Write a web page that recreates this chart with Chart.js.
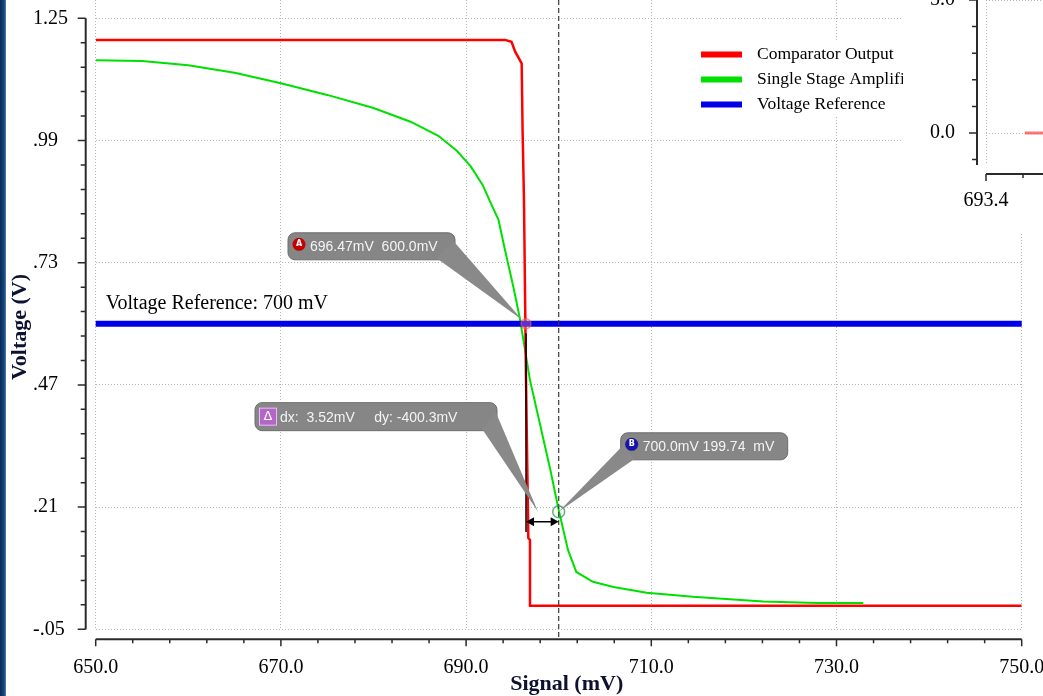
<!DOCTYPE html>
<html>
<head>
<meta charset="utf-8">
<title>Comparator Output vs Single Stage Amplifier</title>
<script src="https://cdn.jsdelivr.net/npm/chart.js@4.4.1/dist/chart.umd.min.js"></script>
<style>
  html, body { margin: 0; padding: 0; background: #ffffff; overflow: hidden; }
  #wrap { position: relative; width: 1043px; height: 696px; overflow: hidden; background: #ffffff; }
  #main { position: absolute; left: 0; top: 0; }
  #inset { position: absolute; left: 903px; top: -30px; }
  #frame { position: absolute; left: 0; top: 0; width: 6px; height: 696px;
           background: linear-gradient(to right, #062a57, #15467a 70%, #5a86b8); }
</style>
</head>
<body>
<div id="wrap">
  <canvas id="main" width="1043" height="696"></canvas>
  <canvas id="inset" width="140" height="263"></canvas>
  <div id="frame"></div>
</div>
<script>
// axis ticks
const signalTicks = [650, 670, 690, 710, 730, 750];
const signalTickLabels = ["650.0", "670.0", "690.0", "710.0", "730.0", "750.0"];
const voltageTicks = [-0.05, 0.21, 0.47, 0.73, 0.99, 1.25];
const voltageTickLabels = ["-.05", ".21", ".47", ".73", ".99", "1.25"];

// series (signal in mV, voltage in V)
const comparatorSignal = [650, 694.2, 694.9, 695.3, 696.0, 696.1, 696.25, 696.47, 696.72, 696.9, 696.9, 750];
const comparatorVoltage = [1.204, 1.204, 1.2, 1.179, 1.154, 1.012, 0.863, 0.48, 0.144, 0.14, 0.0, 0.0];

const amplifierSignal = [650, 655, 660, 665, 670, 675, 680, 684, 687, 689, 690.5, 691.8, 692.7, 693.5, 694.2,
  695.1, 695.8, 696.9, 697.4, 699.1, 700.0, 701.0, 701.9, 703.7, 705.9, 709.5, 714.5, 722.1, 727.9, 732.9];
const amplifierVoltage = [1.161, 1.159, 1.15, 1.134, 1.112, 1.087, 1.059, 1.03, 1.0, 0.968, 0.935, 0.895, 0.855, 0.821, 0.757,
  0.679, 0.612, 0.48, 0.437, 0.289, 0.204, 0.119, 0.072, 0.051, 0.04, 0.028, 0.019, 0.009, 0.006, 0.006];

const referenceSignal = [650, 750];
const referenceVoltage = [0.60, 0.60];

// cursors
const cursorA = [696.47, 0.60];
const cursorB = [700.0, 0.2];
const deltaBracket = [0.58, 0.157, 0.179];   // solid line top, bottom, arrow level
const cursorALabel = "696.47mV  600.0mV";
const deltaLabel = "dx:  3.52mV     dy: -400.3mV";
const cursorBLabel = "700.0mV 199.74  mV";
const referenceLabel = "Voltage Reference: 700 mV";

// inset window (top right)
const insetSignalTicks = [693.4];
const insetSignalTickLabels = ["693.4"];
const insetVoltageTicks = [0, 5];
const insetVoltageTickLabels = ["0.0", "5.0"];
const insetSignal = [693.505, 693.56];
const insetVoltage = [0, 0];

const serif = "'Liberation Serif', 'Times New Roman', serif";

function toPoints(xs, ys){
  return xs.map(function(x, i){ return {x: x, y: ys[i]}; });
}

function fixedScale(min, max, ticks, labels, fit, extra){
  let scale = {
    type: "linear",
    min: min,
    max: max,
    bounds: "data",
    afterBuildTicks: function(s){
      s.ticks = ticks.map(function(v){ return {value: v}; });
    },
    afterFit: fit,
    grid: {
      color: "#b4b4b4",
      lineWidth: 1,
      drawTicks: false
    },
    border: {
      display: false,
      dash: [1, 2]
    },
    ticks: {
      autoSkip: false,
      maxRotation: 0,
      minRotation: 0,
      color: "#000000",
      font: { family: serif, size: 20 },
      callback: function(value, index){ return labels[index]; }
    }
  };
  Object.assign(scale.ticks, extra || {});
  return scale;
}

// axis lines and tick marks sit a few pixels away from the plot area
const offsetAxes = {
  id: "offsetAxes",
  afterDraw: function(chart, args, opts){
    const ctx = chart.ctx;
    const area = chart.chartArea;
    const xs = chart.scales.x;
    const ys = chart.scales.y;
    const axisX = area.left - opts.gap;
    const axisY = area.bottom + opts.gap;
    ctx.save();
    ctx.strokeStyle = "#2a2a2a";
    ctx.lineWidth = 2;
    ctx.beginPath();
    ctx.moveTo(axisX, ys.getPixelForValue(opts.yLine[0]));
    ctx.lineTo(axisX, ys.getPixelForValue(opts.yLine[1]));
    ctx.moveTo(xs.getPixelForValue(opts.xLine[0]), axisY);
    ctx.lineTo(xs.getPixelForValue(opts.xLine[1]), axisY);
    ctx.stroke();
    ctx.lineWidth = 1.5;
    ctx.beginPath();
    for (let i = 0; opts.yFirst + i * opts.yStep <= opts.yLast + 1e-6; i++){
      let v = opts.yFirst + i * opts.yStep;
      let py = ys.getPixelForValue(v);
      let major = opts.yMajor.some(function(t){ return Math.abs(t - v) < opts.yStep / 100; });
      ctx.moveTo(axisX - (major ? 8 : 5), py);
      ctx.lineTo(axisX, py);
    }
    for (let i = 0; opts.xFirst + i * opts.xStep <= opts.xLast + 1e-6; i++){
      let v = opts.xFirst + i * opts.xStep;
      let px = xs.getPixelForValue(v);
      let major = opts.xMajor.some(function(t){ return Math.abs(t - v) < opts.xStep / 100; });
      ctx.moveTo(px, axisY);
      ctx.lineTo(px, axisY + (major ? 7 : 4));
    }
    ctx.stroke();
    ctx.restore();
  }
};

function roundRect(ctx, x, y, w, h, r){
  ctx.beginPath();
  ctx.moveTo(x + r, y);
  ctx.arcTo(x + w, y, x + w, y + h, r);
  ctx.arcTo(x + w, y + h, x, y + h, r);
  ctx.arcTo(x, y + h, x, y, r);
  ctx.arcTo(x, y, x + w, y, r);
  ctx.closePath();
}

function drawCallout(ctx, tip, c){
  const bx = tip[0] + c.box[0];
  const by = tip[1] + c.box[1];
  const bw = c.box[2];
  const bh = c.box[3];
  roundRect(ctx, bx, by, bw, bh, 7);
  ctx.fillStyle = "#868686";
  ctx.fill();
  ctx.strokeStyle = "#6c6c6c";
  ctx.lineWidth = 1;
  ctx.stroke();
  ctx.fillStyle = "#898989";
  ctx.beginPath();
  ctx.moveTo(tip[0] + c.base[0], tip[1] + c.base[1]);
  ctx.lineTo(tip[0] + c.base[2], tip[1] + c.base[3]);
  ctx.lineTo(tip[0], tip[1]);
  ctx.closePath();
  ctx.fill();

  const cy = by + bh / 2;
  if (c.icon == "square"){
    ctx.fillStyle = "#b466c6";
    ctx.fillRect(bx + 4, cy - 9, 18, 18);
    ctx.strokeStyle = "#e8c0f2";
    ctx.strokeRect(bx + 4.5, cy - 8.5, 17, 17);
    ctx.fillStyle = "#ffffff";
    ctx.font = "13px 'DejaVu Sans'";
    ctx.textAlign = "center";
    ctx.textBaseline = "middle";
    ctx.fillText("\u0394", bx + 13, cy);
  } else {
    ctx.beginPath();
    ctx.arc(bx + 11, cy - 2, 6.5, 0, Math.PI * 2);
    ctx.fillStyle = c.icon;
    ctx.fill();
    ctx.fillStyle = "#ffffff";
    ctx.font = "bold 8px 'DejaVu Sans'";
    ctx.textAlign = "center";
    ctx.textBaseline = "middle";
    ctx.fillText(c.letter, bx + 11, cy - 2);
  }
  ctx.fillStyle = "#f4f4f4";
  ctx.font = "14px 'Liberation Sans'";
  ctx.textAlign = "left";
  ctx.textBaseline = "middle";
  ctx.fillText(c.text, bx + c.textDx, cy + 1);
}

const cursorPlugin = {
  id: "cursors",
  afterDraw: function(chart){
    const ctx = chart.ctx;
    const area = chart.chartArea;
    const xs = chart.scales.x;
    const ys = chart.scales.y;
    const ax = xs.getPixelForValue(cursorA[0]);
    const ay = ys.getPixelForValue(cursorA[1]);
    const bx = xs.getPixelForValue(cursorB[0]);
    const by = ys.getPixelForValue(cursorB[1]);
    const arrowY = ys.getPixelForValue(deltaBracket[2]);
    ctx.save();

    // reference label
    ctx.fillStyle = "#000000";
    ctx.font = "20px " + serif;
    ctx.textAlign = "left";
    ctx.textBaseline = "middle";
    ctx.fillText(referenceLabel, area.left + 10, ys.getPixelForValue(referenceVoltage[0]) - 20);

    // dashed cursor B
    ctx.strokeStyle = "#3a3a3a";
    ctx.lineWidth = 1.2;
    ctx.setLineDash([5, 3]);
    ctx.beginPath();
    ctx.moveTo(bx, area.top);
    ctx.lineTo(bx, area.bottom + 10);
    ctx.stroke();
    ctx.setLineDash([]);

    // delta bracket
    ctx.strokeStyle = "#000000";
    ctx.fillStyle = "#000000";
    ctx.lineWidth = 1.5;
    ctx.beginPath();
    ctx.moveTo(ax, ys.getPixelForValue(deltaBracket[0]));
    ctx.lineTo(ax, ys.getPixelForValue(deltaBracket[1]));
    ctx.moveTo(ax + 4, arrowY);
    ctx.lineTo(bx - 4, arrowY);
    ctx.stroke();
    ctx.beginPath();
    ctx.moveTo(ax, arrowY);
    ctx.lineTo(ax + 8, arrowY - 4.5);
    ctx.lineTo(ax + 8, arrowY + 4.5);
    ctx.closePath();
    ctx.moveTo(bx, arrowY);
    ctx.lineTo(bx - 8, arrowY - 4.5);
    ctx.lineTo(bx - 8, arrowY + 4.5);
    ctx.closePath();
    ctx.fill();

    // cursor markers
    ctx.lineWidth = 1.5;
    ctx.beginPath();
    ctx.arc(ax, ay, 5, 0, Math.PI * 2);
    ctx.fillStyle = "rgba(255,150,150,0.35)";
    ctx.fill();
    ctx.strokeStyle = "rgba(255,80,80,0.6)";
    ctx.stroke();
    ctx.beginPath();
    ctx.arc(bx, by, 6, 0, Math.PI * 2);
    ctx.strokeStyle = "rgba(40,150,90,0.75)";
    ctx.stroke();

    // callouts
    drawCallout(ctx, [ax - 4, ay - 4], {
      box: [-234, -87, 167, 27], base: [-86, -62, -68, -78],
      icon: "#c40000", letter: "A", text: cursorALabel, textDx: 22
    });
    drawCallout(ctx, [ax + 12, arrowY - 10], {
      box: [-283, -109, 242, 28], base: [-56, -83, -42, -99],
      icon: "square", text: deltaLabel, textDx: 25
    });
    drawCallout(ctx, [bx, by], {
      box: [62, -79, 167, 27], base: [64, -66, 76, -53],
      icon: "#1414a8", letter: "B", text: cursorBLabel, textDx: 22
    });

    // legend
    ctx.fillStyle = "#ffffff";
    ctx.fillRect(696, 42, 220, 74);
    chart.data.datasets.forEach(function(ds, i){
      let rowY = 54.5 + i * 25;
      ctx.fillStyle = ds.borderColor;
      ctx.fillRect(701, rowY - 3, 41, 6);
      ctx.fillStyle = "#000000";
      ctx.font = "17.5px " + serif;
      ctx.textAlign = "left";
      ctx.textBaseline = "middle";
      ctx.fillText(ds.label, 757, rowY);
    });

    // axis titles
    ctx.fillStyle = "#0d1230";
    ctx.font = "bold 22px " + serif;
    ctx.textAlign = "center";
    ctx.textBaseline = "middle";
    ctx.fillText("Signal (mV)", (area.left + area.right) / 2 + 8, 684);
    ctx.translate(20, 327);
    ctx.rotate(-Math.PI / 2);
    ctx.fillText("Voltage (V)", 0, 0);
    ctx.restore();
  }
};

const whiteBackground = {
  id: "whiteBackground",
  beforeDraw: function(chart){
    const ctx = chart.ctx;
    ctx.save();
    ctx.fillStyle = "#ffffff";
    ctx.fillRect(0, 0, chart.width, chart.height);
    ctx.restore();
  }
};

function createMainChart(){
  let ctx = document.getElementById("main");
  new Chart(ctx, {
    type: "line",
    data: {
      datasets: [
        { label: "Comparator Output", data: toPoints(comparatorSignal, comparatorVoltage),
          borderColor: "#ff0000", borderWidth: 2.5, order: 1 },
        { label: "Single Stage Amplifier", data: toPoints(amplifierSignal, amplifierVoltage),
          borderColor: "#00e000", borderWidth: 2, order: 2 },
        { label: "Voltage Reference", data: toPoints(referenceSignal, referenceVoltage),
          borderColor: "#0000e8", borderWidth: 6, borderCapStyle: "round", order: 0 }
      ]
    },
    options: {
      responsive: false,
      animation: false,
      devicePixelRatio: 1,
      layout: { padding: { left: 33, right: 21.3, top: 0, bottom: 0 } },
      elements: { point: { radius: 0 }, line: { tension: 0 } },
      plugins: {
        legend: { display: false },
        tooltip: { enabled: false },
        offsetAxes: {
          gap: 10,
          xLine: [650, 750], yLine: [-0.05, 1.25],
          xFirst: 650, xLast: 750, xStep: 4, xMajor: signalTicks,
          yFirst: -0.05, yLast: 1.25, yStep: 0.052, yMajor: voltageTicks
        }
      },
      scales: {
        x: fixedScale(650, 750, signalTicks, signalTickLabels, function(s){
          s.height = 66.7; s.paddingLeft = 0; s.paddingRight = 0;
        }, { padding: 26 }),
        y: fixedScale(-0.05, 1.25 + 18.3 / 470, voltageTicks, voltageTickLabels, function(s){
          s.width = 62.7; s.paddingTop = 0; s.paddingBottom = 0;
        }, { crossAlign: "far" })
      }
    },
    plugins: [whiteBackground, offsetAxes, cursorPlugin]
  });
}

function createInsetChart(){
  let ctx = document.getElementById("inset");
  new Chart(ctx, {
    type: "line",
    data: {
      datasets: [
        { label: "Comparator Output", data: toPoints(insetSignal, insetVoltage),
          borderColor: "rgba(255,60,60,0.7)", borderWidth: 3 }
      ]
    },
    options: {
      responsive: false,
      animation: false,
      devicePixelRatio: 1,
      layout: { padding: { left: 27, right: 0, top: 0, bottom: 0 } },
      elements: { point: { radius: 0 }, line: { tension: 0 } },
      plugins: {
        legend: { display: false },
        tooltip: { enabled: false },
        offsetAxes: {
          gap: 9,
          xLine: [693.4, 693.56], yLine: [-1.2, 6.1],
          xFirst: 693.4, xLast: 693.56, xStep: 0.1, xMajor: insetSignalTicks,
          yFirst: -1, yLast: 6, yStep: 1, yMajor: insetVoltageTicks
        }
      },
      scales: {
        x: fixedScale(693.4, 693.4 + 57 / 370, insetSignalTicks, insetSignalTickLabels, function(s){
          s.height = 68; s.paddingLeft = 0; s.paddingRight = 0;
        }, { padding: 24 }),
        y: fixedScale(-32 / 26.6, 163 / 26.6, insetVoltageTicks, insetVoltageTickLabels, function(s){
          s.width = 56; s.paddingTop = 0; s.paddingBottom = 0;
        }, { crossAlign: "far" })
      }
    },
    plugins: [whiteBackground, offsetAxes]
  });
}

createMainChart();
createInsetChart();
</script>
</body>
</html>
